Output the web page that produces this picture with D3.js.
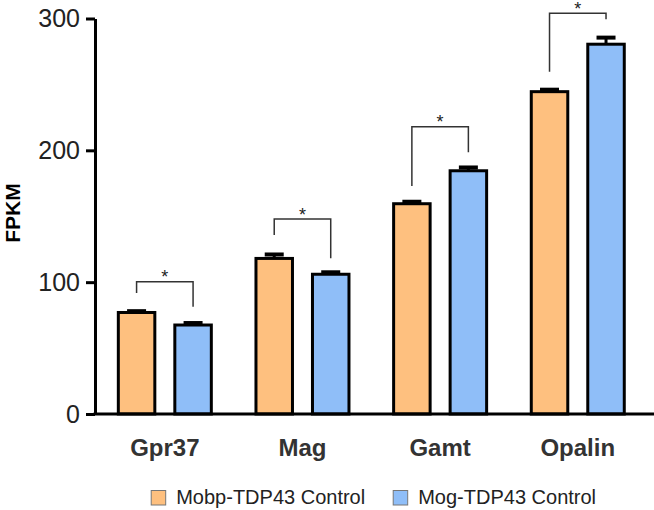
<!DOCTYPE html>
<html><head><meta charset="utf-8">
<script src="https://cdn.jsdelivr.net/npm/d3@7"></script>
<style>
html,body{margin:0;padding:0;background:#fff;}
svg{display:block;font-family:Arial,"Liberation Sans",Helvetica,sans-serif;}
</style></head><body>
<svg id="chart" width="654" height="510"></svg>
<script>
// ---- data ----
const categories = ["Gpr37", "Mag", "Gamt", "Opalin"];
const seriesNames = ["Mobp-TDP43 Control", "Mog-TDP43 Control"];
const mobpValues = [77, 118, 159.5, 244.5];
const mogValues  = [67.5, 106, 184.5, 280.5];
const mobpErrors = [1, 3, 1.5, 1.5];
const mogErrors  = [1.5, 1.5, 2.5, 5];
// significance brackets: [top, left leg end, right leg end] in FPKM units
const bracketTop   = [100.4, 147.9, 217.9, 304];
const bracketLeft  = [91.8, 135.8, 173, 259.6];
const bracketRight = [81.4, 118.1, 198.5, 299.5];
const bracketLabel = ["*", "*", "*", "*"];
const yTicks = [0, 100, 200, 300];
const yLabel = "FPKM";
const colors = ["#FEC07F", "#8FBEF8"];

const svg = d3.select("#chart");
const W = 654;
const axisX = 95;

const y = d3.scaleLinear().domain([0, 300]).range([414, 18.5]);
const x0 = d3.scaleBand().domain(categories).range([96, 646.6]).padding(0);
const x1 = d3.scaleBand().domain(seriesNames).range([-46.5, 46.5]).paddingInner(0.354).paddingOuter(0);
const center = c => x0(c) + x0.bandwidth() / 2;

const data = [];
categories.forEach((c, i) => {
  data.push({cat: c, s: seriesNames[0], v: mobpValues[i], e: mobpErrors[i], col: colors[0]});
  data.push({cat: c, s: seriesNames[1], v: mogValues[i], e: mogErrors[i], col: colors[1]});
});

// bars
svg.append("g").selectAll("rect").data(data).join("rect")
  .attr("x", d => center(d.cat) + x1(d.s))
  .attr("y", d => y(d.v))
  .attr("width", x1.bandwidth())
  .attr("height", d => y(0) - y(d.v))
  .attr("fill", d => d.col)
  .attr("stroke", "#000")
  .attr("stroke-width", 3);

// error bars
const eg = svg.append("g").attr("stroke", "#000");
eg.selectAll("line.stem").data(data).join("line")
  .attr("class", "stem")
  .attr("x1", d => center(d.cat) + x1(d.s) + x1.bandwidth() / 2)
  .attr("x2", d => center(d.cat) + x1(d.s) + x1.bandwidth() / 2)
  .attr("y1", d => y(d.v))
  .attr("y2", d => y(d.v + d.e))
  .attr("stroke-width", 3);
eg.selectAll("line.cap").data(data).join("line")
  .attr("class", "cap")
  .attr("x1", d => center(d.cat) + x1(d.s) + x1.bandwidth() / 2 - 9.5)
  .attr("x2", d => center(d.cat) + x1(d.s) + x1.bandwidth() / 2 + 9.5)
  .attr("y1", d => y(d.v + d.e))
  .attr("y2", d => y(d.v + d.e))
  .attr("stroke-width", 4);

// brackets
const br = categories.map((c, i) => ({cat: c, t: bracketTop[i], l: bracketLeft[i], r: bracketRight[i], lab: bracketLabel[i]}));
const bg = svg.append("g");
bg.selectAll("path").data(br).join("path")
  .attr("d", d => {
    const xl = center(d.cat) + x1(seriesNames[0]) + x1.bandwidth() / 2;
    const xr = center(d.cat) + x1(seriesNames[1]) + x1.bandwidth() / 2;
    return `M${xl},${y(d.l)}V${y(d.t)}H${xr}V${y(d.r)}`;
  })
  .attr("fill", "none")
  .attr("stroke", "#333")
  .attr("stroke-width", 1.5);
bg.selectAll("text").data(br).join("text")
  .attr("x", d => center(d.cat))
  .attr("y", d => y(d.t) + 1.5)
  .attr("text-anchor", "middle")
  .attr("font-size", 18)
  .attr("fill", "#222")
  .text(d => d.lab);

// y axis
const yAxis = svg.append("g").attr("transform", `translate(${axisX},0)`)
  .call(d3.axisLeft(y).tickValues(yTicks).tickSize(9).tickSizeOuter(0).tickPadding(6).tickFormat(d3.format("d")));
yAxis.selectAll("path,line").attr("stroke", "#000").attr("stroke-width", 3);
yAxis.selectAll("text").attr("font-size", 25).attr("fill", "#222").attr("font-family", "Arial, 'Liberation Sans', sans-serif");

// x axis
const xAxis = svg.append("g").attr("transform", `translate(0,${y(0)})`)
  .call(d3.axisBottom(x0).tickSize(0).tickPadding(25));
xAxis.select(".domain").remove();
xAxis.selectAll("text").attr("font-size", 24).attr("font-weight", "bold").attr("fill", "#333")
  .attr("font-family", "Arial, 'Liberation Sans', sans-serif");
svg.append("line").attr("x1", axisX - 1.5).attr("x2", W).attr("y1", y(0)).attr("y2", y(0))
  .attr("stroke", "#000").attr("stroke-width", 3);

// y label
svg.append("text")
  .attr("transform", `translate(20,${213}) rotate(-90)`)
  .attr("text-anchor", "middle")
  .attr("font-size", 21).attr("font-weight", "bold").attr("fill", "#000")
  .text(yLabel);

// legend
const legX = [150.7, 392.7];
const lg = svg.append("g").selectAll("g").data(seriesNames).join("g")
  .attr("transform", (d, i) => `translate(${legX[i]},490)`);
lg.append("rect").attr("x", 0.5).attr("y", 0.5).attr("width", 14.5).attr("height", 14.5)
  .attr("fill", (d, i) => colors[i]).attr("stroke", "#777").attr("stroke-width", 1);
lg.append("text").attr("x", 25.5).attr("y", 14.3).attr("font-size", 20).attr("fill", "#222").text(d => d);
</script>
</body></html>
